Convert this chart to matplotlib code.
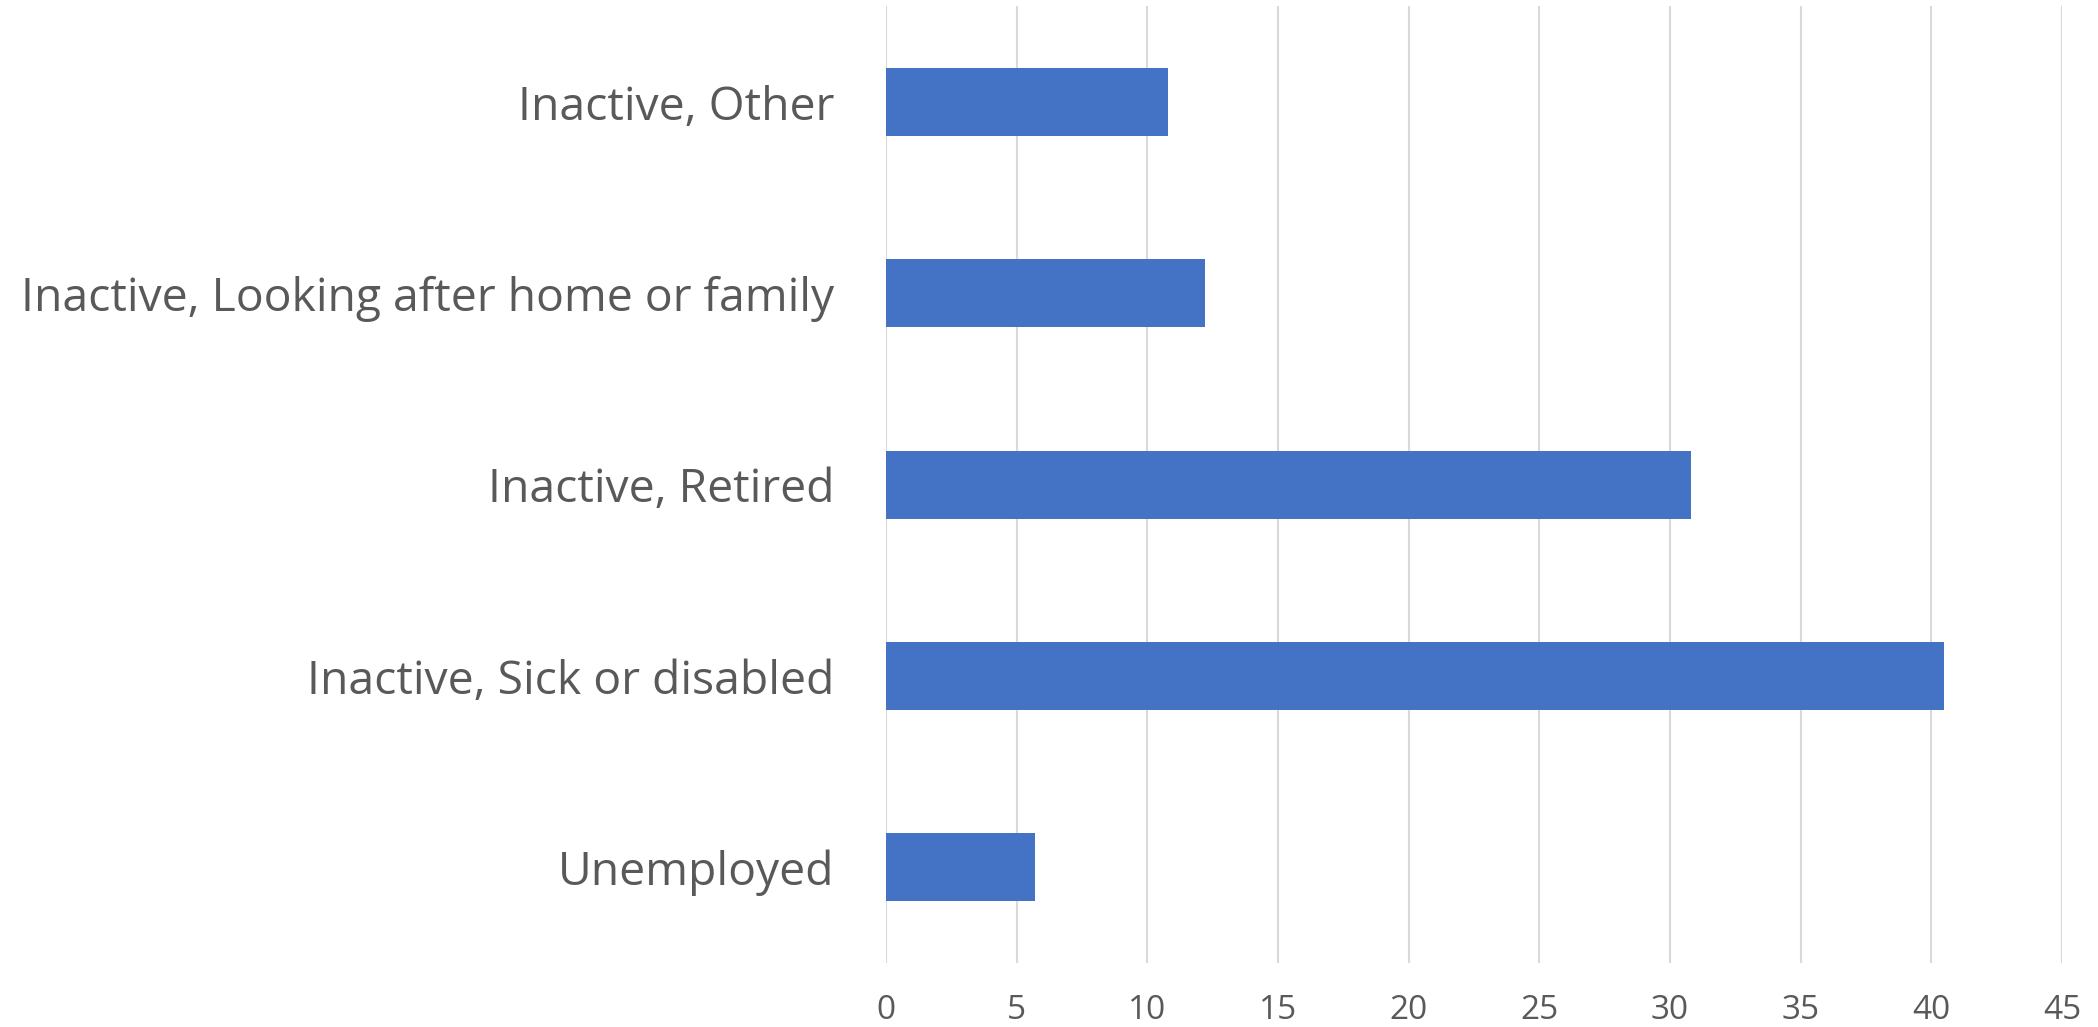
import matplotlib
matplotlib.use("Agg")
import matplotlib.pyplot as plt

# Данные диаграммы
categories = ["Unemployed", "Inactive, Sick or disabled", "Inactive, Retired",
              "Inactive, Looking after home or family", "Inactive, Other"]
values = [5.7, 40.5, 30.8, 12.2, 10.8]
x_ticks = [0, 5, 10, 15, 20, 25, 30, 35, 40, 45]

bar_color = "#4472C4"
text_color = "#595959"
grid_color = "#D9D9D9"

plt.rcParams["font.family"] = ["Open Sans", "DejaVu Sans"]

fig = plt.figure(figsize=(20.98, 10.27), dpi=100)
ax = fig.add_axes([0.4223, 0.0623, 0.5605, 0.9315])

ax.barh(range(len(categories)), values, height=0.355, color=bar_color, zorder=3)

ax.set_xlim(0, 45)
ax.set_ylim(-0.5, len(categories) - 0.5)
ax.set_xticks(x_ticks)
ax.set_xticklabels([str(t) for t in x_ticks])
ax.set_yticks(range(len(categories)))
ax.set_yticklabels(categories)

ax.grid(axis="x", color=grid_color, linewidth=1.5, zorder=0)
for s in ax.spines.values():
    s.set_visible(False)

ax.tick_params(axis="x", length=0, pad=22, labelsize=24, labelcolor=text_color)
ax.tick_params(axis="y", length=0, pad=37, labelsize=33.3, labelcolor=text_color)

fig.savefig("out.png", dpi=100)
